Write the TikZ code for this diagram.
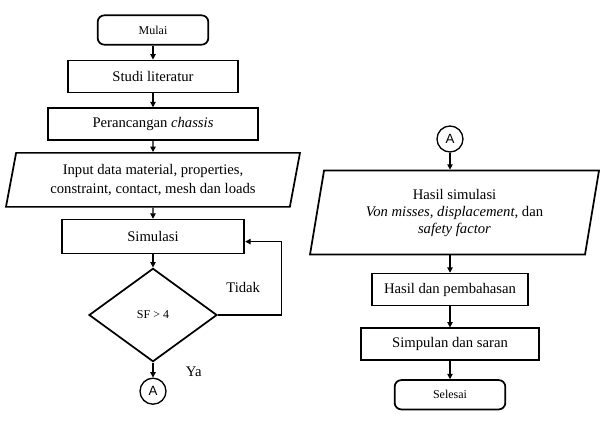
\documentclass[tikz,border=0pt]{standalone}
\usepackage{fontspec}
\setmainfont{Liberation Serif}
\newfontfamily\connfont{Liberation Sans}
\usetikzlibrary{arrows.meta, positioning, shapes.geometric}

\begin{document}
\begin{tikzpicture}[
        % Node styles
        terminal/.style={rectangle, draw=black, line width=1.3pt, rounded corners=5pt,
                        minimum width=83pt, minimum height=22pt, font=\fontsize{9}{11}\selectfont},
        process/.style={rectangle, draw=black, line width=1.3pt, minimum height=24pt,
                        text centered, font=\fontsize{11}{13}\selectfont},
        data/.style={trapezium, trapezium left angle=76, trapezium right angle=104,
                        trapezium stretches body, draw=black, line width=1.3pt, align=center},
        decision/.style={diamond, draw=black, line width=1.3pt, minimum width=96pt,
                        minimum height=70pt, inner sep=0pt, font=\fontsize{9}{11}\selectfont},
        connector/.style={circle, draw=black, line width=1pt, minimum size=19.5pt,
                        inner sep=0pt, font=\connfont\fontsize{10}{12}\selectfont},
        answer/.style={font=\fontsize{11}{13}\selectfont},
        arrow/.style={line width=0.8pt, -{Triangle[length=4pt, width=4pt]}}
    ]
        \useasboundingbox (0,0) rectangle (450pt,-315.75pt);

        % Left column
        \node[terminal] (mulai) at (114.75pt,-22.5pt) {Mulai};
        \node[process, minimum width=128pt, below=10.5pt of mulai] (studi) {Studi literatur};
        \node[process, minimum width=157.5pt, below=10.5pt of studi] (rancang) {Perancangan \textit{chassis}};
        \node[data, minimum width=220.5pt, minimum height=40.5pt, below=8.25pt of rancang,
              font=\fontsize{11}{14.5}\selectfont] (input)
              {Input data material, properties,\\constraint, contact, mesh dan loads};
        \node[process, minimum width=137pt, minimum height=25.5pt, below=8.25pt of input] (simulasi) {Simulasi};
        \node[decision, below=9.75pt of simulasi] (sfcheck) {SF > 4};
        \node[connector, below=11.25pt of sfcheck] (conna) {A};

        % Right column
        \node[connector] (connb) at (337.5pt,-104.25pt) {A};
        \node[data, minimum width=216.75pt, minimum height=63pt, below=12.75pt of connb, xshift=3.4pt,
              font=\fontsize{11}{12.75}\selectfont] (hasilsim)
              {Hasil simulasi\\\textit{Von misses, displacement}, dan\\\textit{safety factor}};
        \node[process, minimum width=117pt, below=13pt of hasilsim, xshift=-3.4pt] (bahas) {Hasil dan pembahasan};
        \node[process, minimum width=133pt, below=15.75pt of bahas] (simpulan) {Simpulan dan saran};
        \node[terminal, below=13.5pt of simpulan] (selesai) {Selesai};

        % Arrows left column
        \draw[arrow] (mulai) -- (studi);
        \draw[arrow] (studi) -- (rancang);
        \draw[arrow] (rancang) -- (input);
        \draw[arrow] (input) -- (simulasi);
        \draw[arrow] (simulasi) -- (sfcheck);
        \draw[arrow] (sfcheck) -- node[answer, right, xshift=21pt, yshift=-1pt] {Ya} (conna);

        % Loop back to simulation
        \draw[arrow] (sfcheck.east) -- node[answer, above, xshift=-5pt, yshift=13pt] {Tidak} ++(48pt,0)
              |- ([yshift=-3.75pt]simulasi.east);

        % Arrows right column
        \draw[arrow] (connb) -- (connb |- hasilsim.north);
        \draw[arrow] (hasilsim.south -| bahas) -- (bahas);
        \draw[arrow] (bahas) -- (simpulan);
        \draw[arrow] (simpulan) -- (selesai);
    \end{tikzpicture}
\end{document}
